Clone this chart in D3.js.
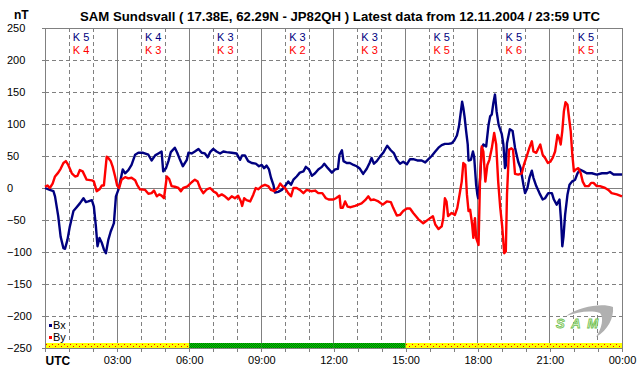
<!DOCTYPE html>
<html>
<head>
<meta charset="utf-8">
<script src="https://cdn.jsdelivr.net/npm/d3@7"></script>
<style>
  body { margin: 0; background: #fff; }
  svg { display: block; font-family: "Liberation Sans", Arial, sans-serif; }
</style>
</head>
<body>
<div id="chart"></div>
<script>
// --------------------------------------
//  Data (minutes since 00:00 UTC, nT)
// --------------------------------------

const titleText = "SAM Sundsvall ( 17.38E, 62.29N - JP82QH ) Latest data from 12.11.2004 / 23:59 UTC";

const bx = [
  [0,0],[12,-3],[21,-5],[25,-13],[33,-44],[39,-76],[46,-94],[50,-95],[56,-81],[62,-60],
  [71,-36],[79,-30],[87,-24],[96,-16],[102,-22],[108,-21],[117,-19],[122,-29],[127,-60],[131,-91],
  [136,-78],[142,-86],[147,-96],[152,-102],[158,-81],[164,-68],[169,-60],[172,-55],[177,-13],[183,-3],
  [187,8],[194,29],[200,23],[208,28],[216,36],[225,52],[233,55],[245,55],[258,52],[266,43],
  [275,51],[283,54],[291,57],[295,26],[302,31],[308,42],[314,56],[324,63],[330,55],[337,44],
  [344,34],[354,44],[358,55],[366,54],[374,57],[383,61],[391,55],[399,54],[406,48],[412,56],
  [420,61],[428,57],[437,54],[445,57],[453,56],[466,55],[478,54],[487,44],[492,51],[499,51],
  [507,42],[516,39],[526,38],[534,34],[541,36],[547,31],[553,35],[559,29],[564,16],[570,5],
  [574,-7],[582,-6],[591,-3],[599,3],[607,10],[614,5],[620,13],[628,18],[636,24],[645,26],
  [651,33],[659,29],[666,19],[674,23],[682,29],[691,33],[697,38],[706,31],[716,24],[724,29],
  [731,30],[735,52],[741,59],[745,42],[753,39],[761,39],[770,36],[778,34],[786,30],[794,22],
  [803,30],[810,39],[815,47],[821,38],[828,42],[836,49],[844,55],[854,66],[863,59],[871,54],
  [878,44],[886,38],[894,41],[903,37],[911,45],[919,45],[929,43],[940,43],[949,40],[957,45],
  [965,50],[974,57],[982,63],[990,67],[998,69],[1007,69],[1015,70],[1021,74],[1028,82],[1033,96],
  [1038,120],[1041,135],[1044,125],[1047,112],[1051,89],[1055,68],[1057,43],[1063,44],[1068,57],[1071,49],
  [1076,5],[1079,-10],[1081,-16],[1086,16],[1090,62],[1094,68],[1101,65],[1107,99],[1111,112],[1115,115],
  [1119,133],[1123,146],[1127,120],[1132,99],[1140,84],[1144,68],[1148,31],[1150,35],[1153,70],[1160,92],
  [1167,89],[1173,63],[1181,41],[1187,31],[1194,5],[1198,-8],[1204,0],[1209,16],[1215,27],[1219,16],
  [1226,3],[1234,-8],[1242,-18],[1248,-16],[1256,-8],[1265,-8],[1270,-18],[1277,-26],[1284,-18],[1288,-52],
  [1291,-91],[1294,-76],[1298,-42],[1304,-10],[1309,5],[1315,10],[1323,13],[1329,23],[1335,29],[1344,26],
  [1352,23],[1365,23],[1377,21],[1390,23],[1402,23],[1410,25],[1419,21],[1440,21]
];

const by = [
  [0,2],[6,4],[12,0],[19,7],[25,18],[33,24],[39,30],[46,39],[52,42],[58,36],
  [67,23],[75,18],[81,19],[87,28],[94,26],[104,13],[117,12],[122,10],[129,-5],[136,-2],
  [142,4],[147,4],[154,49],[158,47],[164,42],[169,33],[175,18],[180,4],[185,0],[191,13],
  [200,17],[208,15],[216,16],[225,12],[230,5],[237,-2],[250,-3],[258,-9],[266,-8],[272,-4],
  [279,-13],[285,-10],[291,-12],[297,-16],[304,18],[310,14],[316,3],[324,2],[333,0],[339,-5],
  [345,0],[354,2],[358,4],[366,9],[374,13],[381,10],[387,0],[395,-8],[404,-2],[412,0],
  [420,-5],[428,-8],[433,-13],[441,-10],[449,-13],[458,-18],[466,-13],[474,-16],[482,-12],[489,-21],
  [492,-28],[497,-16],[503,-19],[512,-21],[520,-10],[526,0],[532,-2],[541,3],[549,5],[557,3],
  [564,-3],[572,-5],[581,0],[587,7],[592,3],[599,0],[607,-8],[614,-13],[620,0],[628,0],
  [636,-3],[645,-8],[653,-3],[664,-5],[674,-4],[682,-8],[692,-8],[701,-16],[709,-18],[720,-18],
  [726,-16],[735,-12],[738,-31],[743,-31],[749,-21],[755,-29],[763,-30],[774,-28],[782,-26],[790,-24],
  [799,-19],[807,-13],[813,-19],[821,-18],[832,-21],[843,-26],[853,-21],[863,-22],[869,-31],[878,-43],
  [886,-42],[894,-36],[903,-32],[911,-32],[919,-39],[932,-49],[944,-55],[957,-49],[968,-44],[974,-57],
  [982,-64],[990,-60],[994,-47],[998,-16],[1002,-21],[1006,-44],[1015,-39],[1023,-42],[1029,-31],[1036,-5],
  [1040,10],[1044,39],[1049,36],[1053,-10],[1057,-36],[1061,-34],[1066,-57],[1069,-78],[1073,-47],[1076,-78],
  [1082,-89],[1086,21],[1090,65],[1094,57],[1099,10],[1104,36],[1109,44],[1115,62],[1121,86],[1126,68],
  [1131,10],[1136,-30],[1141,-60],[1146,-102],[1150,-99],[1153,-10],[1158,60],[1164,62],[1168,60],[1173,22],
  [1181,21],[1190,23],[1195,36],[1202,49],[1209,63],[1215,73],[1219,57],[1226,55],[1232,63],[1236,68],
  [1242,52],[1248,47],[1255,39],[1261,41],[1267,47],[1273,57],[1279,83],[1283,78],[1287,68],[1291,89],
  [1295,120],[1299,134],[1304,130],[1308,109],[1312,89],[1316,52],[1320,26],[1325,29],[1331,31],[1337,23],
  [1342,10],[1348,3],[1357,3],[1363,8],[1369,8],[1377,3],[1385,3],[1398,0],[1406,-3],[1414,-8],
  [1427,-10],[1440,-13]
];

// K indices per 3-hour interval
const kBx = [5, 4, 3, 3, 3, 5, 5, 5];
const kBy = [4, 3, 3, 2, 3, 5, 6, 5];

// activity level bar per 3-hour interval
const activity = ["unsettled", "unsettled", "quiet", "quiet", "quiet", "unsettled", "unsettled", "unsettled"];

const yTicks = [-250, -200, -150, -100, -50, 0, 50, 100, 150, 200, 250];
const xTickLabels = ["UTC", "03:00", "06:00", "09:00", "12:00", "15:00", "18:00", "21:00", "00:00"];

// --------------------------------------
//  Canvas
// --------------------------------------

const width = 642, height = 376;
const margin = {top: 28, right: 20, bottom: 28, left: 45};

const svg = d3.select("#chart")
  .append("svg")
    .attr("width", width)
    .attr("height", height);

const x = d3.scaleLinear().domain([0, 1440]).range([margin.left, width - margin.right]);
const y = d3.scaleLinear().domain([-250, 250]).range([height - margin.bottom, margin.top]);

const gridColor = "#808080";

// patterns for the activity bar
const defs = svg.append("defs");
const pYellow = defs.append("pattern")
    .attr("id", "pYellow").attr("patternUnits", "userSpaceOnUse")
    .attr("width", 6).attr("height", 5).attr("x", margin.left).attr("y", y(-250) - 5);
pYellow.append("rect").attr("width", 6).attr("height", 5).attr("fill", "#ffff00");
pYellow.append("rect").attr("x", 1).attr("y", 1).attr("width", 1).attr("height", 1).attr("fill", "#ff0000");
pYellow.append("rect").attr("x", 4).attr("y", 3).attr("width", 1).attr("height", 1).attr("fill", "#ff0000");

const pGreen = defs.append("pattern")
    .attr("id", "pGreen").attr("patternUnits", "userSpaceOnUse")
    .attr("width", 2).attr("height", 2);
pGreen.append("rect").attr("width", 2).attr("height", 2).attr("fill", "#00d000");
pGreen.append("rect").attr("width", 1).attr("height", 1).attr("fill", "#007000");
pGreen.append("rect").attr("x", 1).attr("y", 1).attr("width", 1).attr("height", 1).attr("fill", "#007000");

const activityFill = d3.scaleOrdinal()
    .domain(["quiet", "unsettled"])
    .range(["url(#pGreen)", "url(#pYellow)"]);

// --------------------------------------
//  Grid
// --------------------------------------

const grid = svg.append("g").attr("shape-rendering", "crispEdges");

grid.selectAll(".hgrid")
  .data(yTicks.filter(d => d > -250))
  .join("line")
    .attr("x1", x(0)).attr("x2", x(1440))
    .attr("y1", d => y(d)).attr("y2", d => y(d))
    .attr("stroke", gridColor)
    .attr("stroke-dasharray", d => (d === 0 || d === 250) ? null : "4,3");

grid.selectAll(".vgrid")
  .data(d3.range(60, 1441, 60))
  .join("line")
    .attr("x1", d => x(d)).attr("x2", d => x(d))
    .attr("y1", y(250)).attr("y2", y(-250))
    .attr("stroke", gridColor)
    .attr("stroke-dasharray", d => d % 180 === 0 ? null : "4,3");

// activity bar
svg.append("g")
  .selectAll("rect")
  .data(activity)
  .join("rect")
    .attr("x", (d, i) => x(i * 180))
    .attr("width", x(180) - x(0))
    .attr("y", y(-250) - 5)
    .attr("height", 5)
    .attr("fill", d => activityFill(d));

// --------------------------------------
//  Axes
// --------------------------------------

const yAxis = svg.append("g")
    .attr("transform", `translate(${margin.left},0)`)
    .call(d3.axisLeft(y).tickValues(yTicks).tickSize(3).tickSizeOuter(0));

yAxis.selectAll("text")
    .attr("x", 7 - margin.left)
    .attr("text-anchor", "start")
    .attr("font-size", 11)
    .attr("font-family", "Liberation Sans, Arial, sans-serif")
    .attr("fill", "#000");

const xAxis = svg.append("g")
    .attr("transform", `translate(0,${y(-250)})`)
    .call(d3.axisBottom(x)
      .tickValues(d3.range(0, 1441, 60))
      .tickSize(4).tickSizeOuter(0)
      .tickFormat(d => d % 180 === 0 ? xTickLabels[d / 180] : ""));

xAxis.selectAll("text")
    .attr("y", 8)
    .attr("font-size", 11)
    .attr("font-family", "Liberation Sans, Arial, sans-serif")
    .attr("fill", "#000")
    .filter(d => d === 0)
      .attr("text-anchor", "start")
      .attr("font-weight", "bold")
      .attr("font-size", 12);

svg.selectAll(".domain, .tick line")
    .attr("stroke", gridColor)
    .attr("shape-rendering", "crispEdges");

// top border
svg.append("line")
    .attr("x1", x(0)).attr("x2", x(1440))
    .attr("y1", y(250)).attr("y2", y(250))
    .attr("stroke", gridColor)
    .attr("shape-rendering", "crispEdges");

// --------------------------------------
//  Lines
// --------------------------------------

const line = d3.line()
    .x(d => x(d[0]))
    .y(d => y(d[1]));

svg.append("path")
    .attr("d", line(bx))
    .attr("fill", "none")
    .attr("stroke", "#000080")
    .attr("stroke-width", 2.4)
    .attr("stroke-linejoin", "round");

svg.append("path")
    .attr("d", line(by))
    .attr("fill", "none")
    .attr("stroke", "#ff0000")
    .attr("stroke-width", 2.4)
    .attr("stroke-linejoin", "round");

// --------------------------------------
//  K indices
// --------------------------------------

const kGroup = svg.append("g")
    .attr("font-size", 11)
    .attr("text-anchor", "middle");

kGroup.selectAll(".kbx")
  .data(kBx)
  .join("text")
    .attr("x", (d, i) => x(i * 180 + 90))
    .attr("y", 41)
    .attr("fill", "#000080")
    .text(d => "K " + d);

kGroup.selectAll(".kby")
  .data(kBy)
  .join("text")
    .attr("x", (d, i) => x(i * 180 + 90))
    .attr("y", 54)
    .attr("fill", "#ff0000")
    .text(d => "K " + d);

// --------------------------------------
//  Titles and legend
// --------------------------------------

svg.append("text")
    .attr("x", 340)
    .attr("y", 21)
    .attr("text-anchor", "middle")
    .attr("font-size", 13)
    .attr("font-weight", "bold")
    .attr("textLength", 520)
    .attr("lengthAdjust", "spacingAndGlyphs")
    .text(titleText);

svg.append("text")
    .attr("x", 14)
    .attr("y", 19)
    .attr("font-size", 12)
    .attr("font-weight", "bold")
    .text("nT");

const legend = svg.append("g").attr("font-size", 11);
[["Bx", "#000080"], ["By", "#ff0000"]].forEach(([name, c], i) => {
  legend.append("rect")
      .attr("x", 49).attr("y", 324 + i * 12)
      .attr("width", 3).attr("height", 3)
      .attr("fill", c);
  legend.append("text")
      .attr("x", 53).attr("y", 329 + i * 12)
      .text(name);
});

// logo
const logo = svg.append("g");
logo.append("path")
    .attr("d", "M566,316 C580,306 603,303 613,307 C614,318 608,330 596,337 C602,328 604,318 600,313 C590,310 578,312 566,316 Z")
    .attr("fill", "#b0b0b0");
logo.append("text")
    .attr("x", 556).attr("y", 328)
    .attr("font-size", 13)
    .attr("font-style", "italic")
    .attr("font-weight", "bold")
    .attr("fill", "#e8f8d8")
    .attr("stroke", "#70c050")
    .attr("stroke-width", 0.8)
    .attr("textLength", 42)
    .text("SAM");
</script>
</body>
</html>
